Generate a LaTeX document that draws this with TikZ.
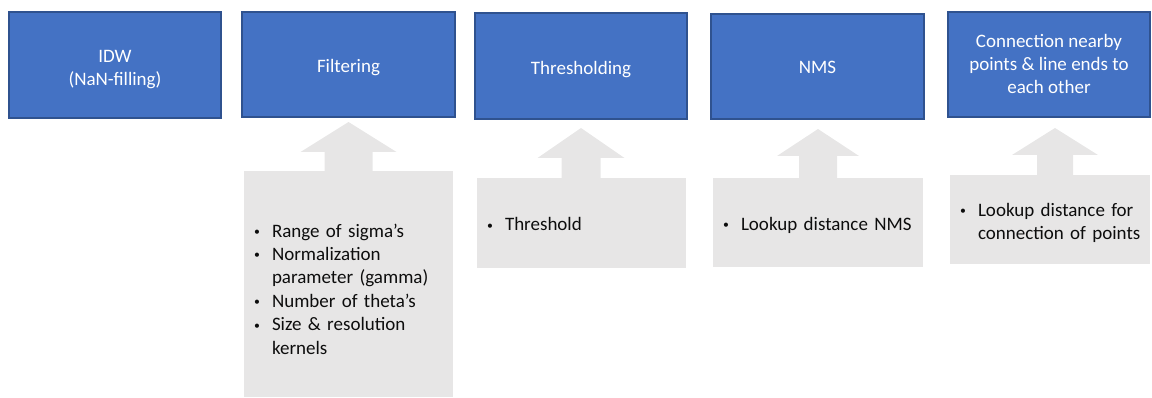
\documentclass[tikz,border=0pt]{standalone}
\usepackage{fontspec}
\usepackage{graphicx}
\setmainfont{Carlito}
\usetikzlibrary{calc}
\definecolor{stepblue}{HTML}{4472C4}
\definecolor{stepedge}{HTML}{2F528F}
\definecolor{paramgray}{HTML}{E7E6E6}
% up-pointing block arrow on top of a parameter box
% #1 node, #2 x offset of arrow axis, #3 half shaft width, #4 half head width,
% #5 shaft length, #6 head length
\newcommand\calloutarrow[6]{%
  \fill[paramgray] ([xshift=#2-#3,yshift=-1pt]#1.north) -- ++(0,-#5-1)
    -- ++(#3-#4,0) -- ++(#4,-#6) -- ++(#4,#6) -- ++(#3-#4,0) -- ++(0,#5+1) -- cycle;}
\newcommand\bul{\raisebox{1.6pt}{\scalebox{0.62}{\textbullet}}}
% centred lines, pushed down by half of #1
\newcommand\steplines[2]{\begin{tabular}{@{}c@{}}\noalign{\vskip#1}#2\end{tabular}}
% bullet list, pushed down by half of #1
\newcommand\paramlist[2]{\begin{tabular}{@{}p{18pt}@{}l@{}}\noalign{\vskip#1}#2\end{tabular}}
\begin{document}
\begin{tikzpicture}[x=1pt,y=-1pt,
  stepbox/.style={draw=stepedge, line width=1.2pt, fill=stepblue, text=white,
    align=center, inner sep=0pt, outer sep=0pt,
    font=\fontsize{19}{23}\selectfont},
  parambox/.style={fill=paramgray, text=black!95, inner xsep=10pt, inner ysep=0pt,
    outer sep=0pt, align=left, font=\fontsize{19}{23.4}\selectfont}]
\useasboundingbox (0,0) rectangle (1152,398);

% processing steps
\node[stepbox, minimum width=212, minimum height=106] (idw) at (115,65)
  {\steplines{9pt}{IDW\\(NaN-filling)}};
\node[stepbox, minimum width=213, minimum height=105] (filt) at (348.5,64.5)
  {\steplines{6pt}{Filtering}};
\node[stepbox, minimum width=212, minimum height=106] (thr) at (581,66)
  {\steplines{8pt}{Thresholding}};
\node[stepbox, minimum width=213, minimum height=105] (nms) at (817.5,66.5)
  {\steplines{4pt}{NMS}};
\node[stepbox, minimum width=202, minimum height=105] (conn) at (1049,64.5)
  {\steplines{2pt}{Connection nearby\\points \& line ends to\\each other}};

% parameters of each step
\node[parambox, text width=189, minimum height=226] (pfilt) at (348.5,284)
  {\paramlist{14pt}{%
   \bul & Range of sigma’s\\
   \bul & Normalization\\
        & parameter (gamma)\\
   \bul & Number of theta’s\\
   \bul & Size \& resolution\\
        & kernels}};
\node[parambox, text width=189, minimum height=90] (pthr) at (581.5,223)
  {\paramlist{6pt}{\bul & Threshold}};
\node[parambox, text width=190, minimum height=89] (pnms) at (818,222.5)
  {\paramlist{6pt}{\bul & Lookup distance NMS}};
\node[parambox, text width=180, minimum height=89] (pconn) at (1050,219.5)
  {\paramlist{8pt}{%
   \bul & Lookup distance for\\
        & connection of points}};

% arrows feeding the parameters into the steps
\calloutarrow{pfilt}{0}{24}{48}{19}{30}
\calloutarrow{pthr}{-0.5}{19.5}{43.5}{20}{30}
\calloutarrow{pnms}{0}{19}{41}{22}{27}
\calloutarrow{pconn}{5}{18}{43}{20}{27}
\end{tikzpicture}
\end{document}
